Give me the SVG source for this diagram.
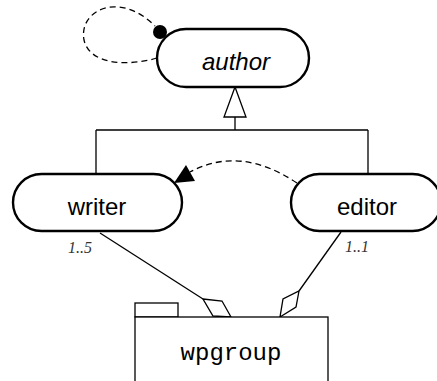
<svg xmlns="http://www.w3.org/2000/svg" width="437" height="381" viewBox="0 0 437 381">
<style>
.node{fill:#fff;stroke:#000;stroke-width:2.4}
.lbl{font-family:"Liberation Sans",Arial,sans-serif;font-size:24px;fill:#000;text-anchor:middle}
.mult{font-family:"Liberation Serif","Times New Roman",serif;font-style:italic;font-size:16px;fill:#333}
.ln{fill:none;stroke:#000;stroke-width:1.3}
.dash{fill:none;stroke:#000;stroke-width:1.3;stroke-dasharray:6 4}
.dia{fill:#fff;stroke:#000;stroke-width:1.3;stroke-linejoin:miter}
</style>
<rect width="437" height="381" fill="#fff"/>
<g id="connectors">
<path class="dash" d="M157,58 C130,66 90,66 84,40 C80,18 100,5 118,7 C132,8 145,16 155,26"/>
<circle cx="160" cy="32" r="7" fill="#000"/>
<path class="ln" d="M235,117 V130 M96,130 H368 M96,130 V174 M368,130 V174"/>
<polygon points="235,87 224,117 246,117" fill="#fff" stroke="#000" stroke-width="1.3"/>
<path class="dash" d="M297,183 Q240,145 190,172"/>
<polygon points="174,183 186,165 195,181" fill="#000"/>
<path class="ln" d="M100,233 L203,299"/>
<polygon class="dia" points="203,299 222,301 231,317 213,316"/>
<path class="ln" d="M341,232 L299,291"/>
<polygon class="dia" points="299,291 296,307 280,317 283,299"/>
<text class="mult" x="68" y="253">1..5</text>
<text class="mult" x="345" y="252">1..1</text>
</g>
<g id="author">
<rect class="node" x="157" y="29" width="152" height="58" rx="29" ry="29"/>
<text class="lbl" x="236" y="70" font-style="italic">author</text>
</g>
<g id="writer">
<rect class="node" x="13" y="174" width="169" height="57" rx="28.5" ry="28.5"/>
<text class="lbl" x="97" y="215">writer</text>
</g>
<g id="editor">
<rect class="node" x="291" y="174" width="150" height="57" rx="28.5" ry="28.5"/>
<text class="lbl" x="367" y="215">editor</text>
</g>
<g id="wpgroup">
<rect x="135" y="303" width="43" height="14" fill="#fff" stroke="#000" stroke-width="1.3"/>
<rect x="135" y="317" width="193" height="80" fill="#fff" stroke="#000" stroke-width="1.3"/>
<text x="231" y="360" font-family="'Liberation Mono','Courier New',monospace" font-size="24" text-anchor="middle" fill="#000">wpgroup</text>
</g>
</svg>
